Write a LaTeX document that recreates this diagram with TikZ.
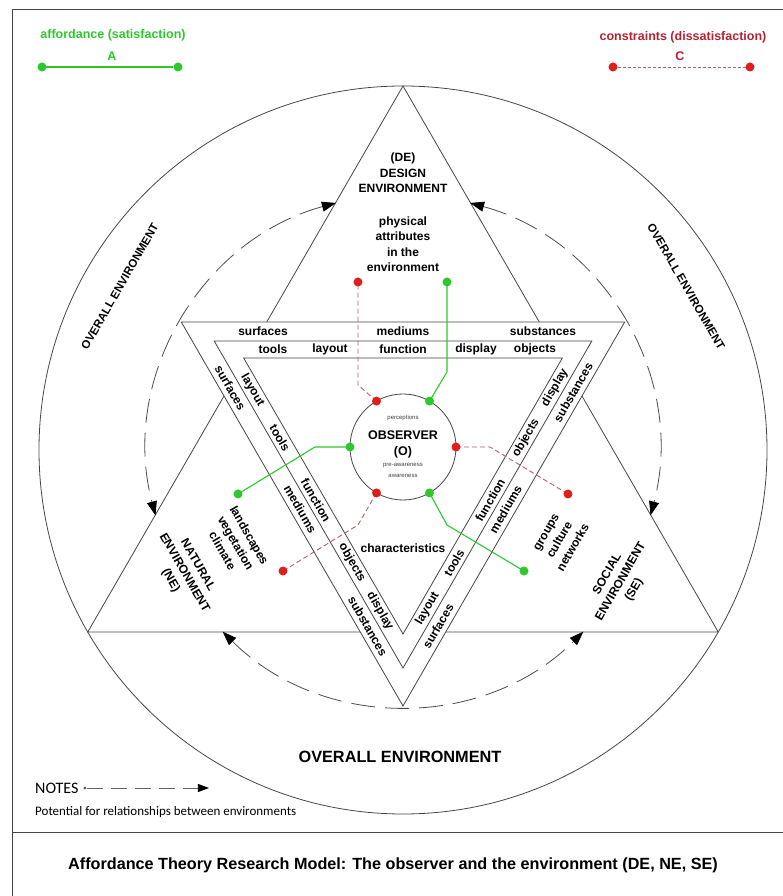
\documentclass[tikz,border=0pt]{standalone}
\usepackage{fontspec}
\setmainfont{Liberation Sans}
\newfontfamily\notefont{Carlito}
\usetikzlibrary{arrows.meta,calc}

\definecolor{affgreen}{RGB}{46,200,46}
\definecolor{dotred}{RGB}{225,30,30}
\definecolor{conred}{RGB}{180,35,50}
\definecolor{linkred}{RGB}{170,100,100}
\definecolor{edge}{RGB}{70,70,70}

\begin{document}
\begin{tikzpicture}[x=1pt,y=1pt,
  lbl/.style={font=\bfseries\fontsize{12}{15.5}\selectfont, inner sep=0pt, align=center},
  band/.style={font=\bfseries\fontsize{12}{14}\selectfont, inner sep=0pt},
  tiny/.style={font=\fontsize{6}{7}\selectfont, inner sep=0pt, text=black!75},
  gdot/.style={circle, fill=affgreen, minimum size=9pt, inner sep=0pt, outer sep=0pt},
  rdot/.style={circle, fill=dotred, minimum size=9pt, inner sep=0pt, outer sep=0pt},
  glink/.style={affgreen, line width=1.1pt},
  rlink/.style={linkred, line width=0.9pt, dash pattern=on 5pt off 3pt},
  frame/.style={edge, line width=0.8pt},
  envarc/.style={black!70, line width=0.8pt, dash pattern=on 24pt off 10pt,
    {Triangle[length=14pt,width=10pt,black]}-{Triangle[length=14pt,width=10pt,black]}},
]
\useasboundingbox (-403,-446) rectangle (380,450);

% outer frame and caption divider
\draw[frame] (-391,-446) -- (-391,441) -- (380,441);
\draw[frame] (-391,-382) -- (380,-382);

% legend
\node[font=\bfseries\fontsize{12.5}{14}\selectfont, text=affgreen, inner sep=0pt] (afft) at (-290,415) {affordance (satisfaction)};
\node[font=\bfseries\fontsize{12.5}{14}\selectfont, text=affgreen, inner sep=0pt] (affA) at (-291,394) {A};
\node[gdot] (la1) at (-361,383) {};
\node[gdot] (la2) at (-225,383) {};
\draw[glink] (la1) -- (la2);
\node[font=\bfseries\fontsize{12.5}{14}\selectfont, text=conred, inner sep=0pt] (cont) at (280,413) {constraints (dissatisfaction)};
\node[font=\bfseries\fontsize{12.5}{14}\selectfont, text=conred, inner sep=0pt] (conC) at (277,394) {C};
\node[rdot] (lc1) at (210,383) {};
\node[rdot] (lc2) at (347,383) {};
\draw[linkred, line width=0.6pt, dash pattern=on 3pt off 2pt] (lc1) -- (lc2);

% overall environment circle and the upward triangle
\draw[frame] (0,0) circle (364);
\draw[frame] (90:364) -- (210:364) -- (330:364) -- cycle;

% dashed arcs between environments
\draw[envarc] (105.2:256) arc[start angle=105.2, end angle=194.8, radius=256];
\draw[envarc] (74.8:256) arc[start angle=74.8, end angle=-14.8, radius=256];
\draw[envarc] (225.2:256) arc[start angle=225.2, end angle=314.8, radius=256];

% inverted triangle with its two bands
\draw[frame, fill=white] (270:256) -- (30:256) -- (150:256) -- cycle;
\draw[frame] (270:218) -- (30:218) -- (150:218) -- cycle;
\draw[frame] (270:184) -- (30:184) -- (150:184) -- cycle;

% band words: top edge
\node[band] at ($(90:118.5)+(0:-140)$) {surfaces};
\node[band] at ($(90:118.5)+(0:0)$) {mediums};
\node[band] at ($(90:118.5)+(0:140)$) {substances};
\node[band] at ($(90:100.5)+(0:-130)$) {tools};
\node[band] at ($(90:100.5)+(0:-73)$) {layout};
\node[band] at ($(90:100.5)+(0:0)$) {function};
\node[band] at ($(90:100.5)+(0:73)$) {display};
\node[band] at ($(90:100.5)+(0:132)$) {objects};
% left edge
\node[band, rotate=-60] at ($(210:118.5)+(-60:-140)$) {surfaces};
\node[band, rotate=-60] at ($(210:118.5)+(-60:0)$) {mediums};
\node[band, rotate=-60] at ($(210:118.5)+(-60:135)$) {substances};
\node[band, rotate=-60] at ($(210:100.5)+(-60:-127)$) {layout};
\node[band, rotate=-60] at ($(210:100.5)+(-60:-72)$) {tools};
\node[band, rotate=-60] at ($(210:100.5)+(-60:0)$) {function};
\node[band, rotate=-60] at ($(210:100.5)+(-60:72)$) {objects};
\node[band, rotate=-60] at ($(210:100.5)+(-60:128)$) {display};
% right edge
\node[band, rotate=60] at ($(330:118.5)+(60:-135)$) {surfaces};
\node[band, rotate=60] at ($(330:118.5)+(60:0)$) {mediums};
\node[band, rotate=60] at ($(330:118.5)+(60:135)$) {substances};
\node[band, rotate=60] at ($(330:100.5)+(60:-125)$) {layout};
\node[band, rotate=60] at ($(330:100.5)+(60:-72)$) {tools};
\node[band, rotate=60] at ($(330:100.5)+(60:0)$) {function};
\node[band, rotate=60] at ($(330:100.5)+(60:72)$) {objects};
\node[band, rotate=60] at ($(330:100.5)+(60:130)$) {display};

% environment labels
\node[lbl] (de) at (0,277) {(DE)\\DESIGN\\ENVIRONMENT};
\node[lbl] (phys) at (0,206) {physical\\attributes\\in the\\environment};
\node[lbl, rotate=-60] (ne) at (-219,-123) {NATURAL\\ENVIRONMENT\\(NE)};
\node[lbl, rotate=-60] (land) at (-167,-93) {landscapes\\vegetation\\climate};
\node[lbl, rotate=60] (se) at (218,-132) {SOCIAL\\ENVIRONMENT\\(SE)};
\node[lbl, rotate=60] (grp) at (157,-90) {groups\\culture\\networks};
\node[lbl] (chr) at (0,-98) {characteristics};
\node[font=\bfseries\fontsize{11.5}{14}\selectfont, rotate=60, inner sep=0pt] (ovl) at (150:327) {OVERALL ENVIRONMENT};
\node[font=\bfseries\fontsize{11.5}{14}\selectfont, rotate=-60, inner sep=0pt] (ovr) at (30:327) {OVERALL ENVIRONMENT};
\node[font=\bfseries\fontsize{16.3}{18}\selectfont, inner sep=0pt] (ovb) at (-3,-307) {OVERALL ENVIRONMENT};

% observer
\node[circle, draw=edge, line width=0.8pt, fill=white, minimum size=106pt, inner sep=0pt, outer sep=0pt] (obs) at (0,3) {};
\node[tiny] (perc) at (0,32) {perceptions};
\node[font=\bfseries\fontsize{12.5}{14}\selectfont, inner sep=0pt] (obsname) at (0,15) {OBSERVER};
\node[font=\bfseries\fontsize{12.5}{14}\selectfont, inner sep=0pt] (obsO) at (0,-2) {(O)};
\node[tiny] (prea) at (0,-16) {pre-awareness};
\node[tiny] (awa) at (0,-26) {awareness};

% links from the observer to the environments
\coordinate (b1) at (-45,65);
\coordinate (b2) at (44,78);
\coordinate (b3) at (-88,3);
\coordinate (b4) at (87,3);
\coordinate (b5) at (-45,-75);
\coordinate (b6) at (44,-75);
\coordinate (e1) at (-45,168);
\coordinate (e2) at (44,168);
\coordinate (e3) at (-165,-44);
\coordinate (e4) at (165,-44);
\coordinate (e5) at (-120,-121);
\coordinate (e6) at (121,-121);
\draw[rlink] (obs.120) -- (b1) -- (e1);
\draw[glink] (obs.60) -- (b2) -- (e2);
\draw[glink] (obs.180) -- (b3) -- (e3);
\draw[rlink] (obs.0) -- (b4) -- (e4);
\draw[rlink] (obs.240) -- (b5) -- (e5);
\draw[glink] (obs.300) -- (b6) -- (e6);
\node[rdot] (d1) at (e1) {};
\node[gdot] (d2) at (e2) {};
\node[gdot] (d3) at (e3) {};
\node[rdot] (d4) at (e4) {};
\node[rdot] (d5) at (e5) {};
\node[gdot] (d6) at (e6) {};
\node[rdot] (o1) at (obs.120) {};
\node[gdot] (o2) at (obs.60) {};
\node[gdot] (o3) at (obs.180) {};
\node[rdot] (o4) at (obs.0) {};
\node[rdot] (o5) at (obs.240) {};
\node[gdot] (o6) at (obs.300) {};

% notes
\node[font=\notefont\fontsize{16}{18}\selectfont, anchor=west, inner sep=0pt] (notes) at (-368,-338) {NOTES};
\node[circle, fill=black!70, minimum size=3pt, inner sep=0pt] (ns) at (-318,-338) {};
\coordinate (nend) at (-194,-338);
\draw[black!60, line width=0.8pt, dash pattern=on 16pt off 8pt, -{Triangle[length=11pt,width=8pt,black]}] (ns) -- (nend);
\node[font=\notefont\fontsize{13}{15}\selectfont, anchor=west, inner sep=0pt] (pot) at (-368,-362) {Potential for relationships between environments};

% caption
\node[font=\bfseries\fontsize{16.2}{19}\selectfont, inner sep=0pt] (cap) at (-10,-415) {Affordance Theory Research Model: The observer and the environment (DE, NE, SE)};
\end{tikzpicture}
\end{document}
